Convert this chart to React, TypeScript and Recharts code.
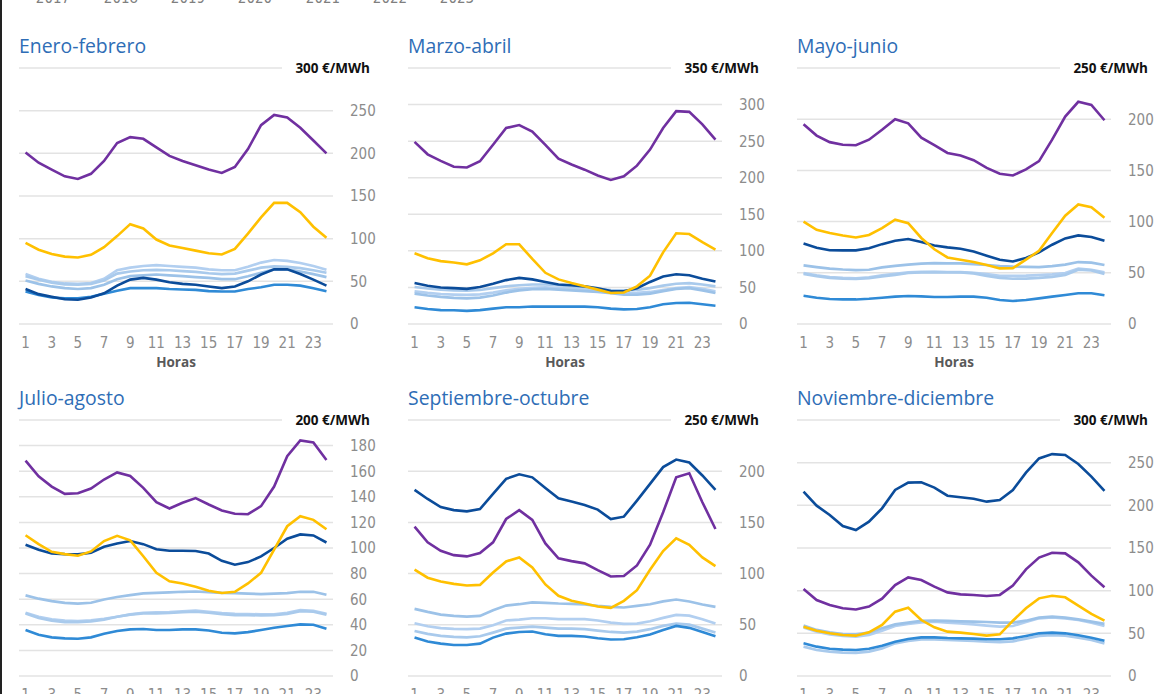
import React from 'react';
import { LineChart, Line, XAxis, YAxis, CartesianGrid } from 'recharts';

// ---------- data ----------
const hours = [1, 2, 3, 4, 5, 6, 7, 8, 9, 10, 11, 12, 13, 14, 15, 16, 17, 18, 19, 20, 21, 22, 23, 24];
const hourTicks = [1, 3, 5, 7, 9, 11, 13, 15, 17, 19, 21, 23];
const years = ['2017', '2018', '2019', '2020', '2021', '2022', '2023'];
const yearColors = ['#b2cff0', '#9cc2e8', '#a9caec', '#2f8ad6', '#0b4c9a', '#7030a0', '#ffc000'];

const periodTitles = ['Enero-febrero', 'Marzo-abril', 'Mayo-junio', 'Julio-agosto', 'Septiembre-octubre', 'Noviembre-diciembre'];
const periodMax = [300, 350, 250, 200, 250, 300];
const ticksEneFeb = [0, 50, 100, 150, 200, 250, 300];
const ticksMarAbr = [0, 50, 100, 150, 200, 250, 300, 350];
const ticksMayJun = [0, 50, 100, 150, 200, 250];
const ticksJulAgo = [0, 20, 40, 60, 80, 100, 120, 140, 160, 180, 200];
const ticksSepOct = [0, 50, 100, 150, 200, 250];
const ticksNovDic = [0, 50, 100, 150, 200, 250, 300];

// Enero-febrero
const eneFeb2017 = [58.5, 53, 49.5, 47.5, 47, 48, 53, 63, 66, 68, 69, 68, 67, 66, 64, 63, 63, 67, 72, 75, 74, 71.5, 68, 63.5];
const eneFeb2018 = [51, 47, 44, 42, 41, 42, 46, 52.5, 56, 57, 58, 57, 56, 55, 54, 52.5, 52.5, 56, 60, 64, 64, 61.5, 58.5, 55];
const eneFeb2019 = [56, 52, 48.5, 46.5, 46, 47, 51, 59, 61.5, 63, 63.5, 63, 62, 61, 59.5, 58.5, 59, 62.5, 66, 67.5, 67, 65.5, 63, 60];
const eneFeb2020 = [38, 34, 31, 30, 30, 32, 35.5, 39, 42, 42, 42, 41, 40.5, 40, 38.5, 38, 38, 41, 43, 46, 46, 45, 42, 38.5];
const eneFeb2021 = [41, 35, 32, 29, 28.5, 31, 36, 45, 52, 54, 52, 49, 47, 46, 44, 42, 44, 50, 58, 64, 64, 58.5, 52, 45];
const eneFeb2022 = [201, 189, 181, 173, 170, 176, 191, 212, 219, 217, 207, 197, 191, 186, 181, 177, 184, 205, 233, 245, 242, 230, 215, 200];
const eneFeb2023 = [95, 87, 82, 79, 78, 81, 90, 103, 117, 112, 99, 92, 89, 86, 83, 81.5, 88, 106, 125, 142, 142, 131, 114, 101];

// Marzo-abril
const marAbr2017 = [44.7, 42.5, 41, 40.2, 39.7, 40.5, 43, 46, 48, 49.5, 50, 49, 48, 46.5, 45.6, 44, 42.4, 42.5, 43.8, 46.5, 49, 50.6, 48, 44.7];
const marAbr2018 = [41.5, 39, 37, 35.8, 35, 36, 39, 43, 46, 47.5, 48, 47, 46, 45, 44, 42, 40, 40, 41.5, 45, 48, 49, 46, 42.4];
const marAbr2019 = [50.6, 48.5, 47, 46, 45.6, 46.5, 49, 51.5, 53, 54, 54, 53, 51.5, 50, 48, 46.5, 46, 46.5, 49, 52.5, 55, 56, 54, 51.5];
const marAbr2020 = [23, 20.5, 19, 18.7, 18, 19, 21, 23, 23, 24, 23.7, 23.7, 23.7, 23.7, 23, 21, 20, 20.5, 23, 27, 28.7, 29, 27, 25];
const marAbr2021 = [56, 52.4, 50, 49, 48, 50.6, 55, 60, 63, 61, 57.5, 54, 53, 51.5, 49, 45, 44.7, 49, 57.5, 65, 68, 66.6, 62, 58];
const marAbr2022 = [249, 232, 223, 215, 214, 222.5, 245, 268, 272, 263, 245, 226, 218, 211, 203, 197, 202, 216.5, 238.5, 268, 291, 290, 273, 252];
const marAbr2023 = [96.7, 90, 86, 84, 81.6, 87, 96.7, 109, 109, 89, 70, 61, 56, 51.5, 47, 42.4, 43, 51.5, 66, 98, 124, 123, 112, 101.7];

// Mayo-junio
const mayJun2017 = [49.8, 47.5, 45.9, 45, 44.6, 45.5, 47.5, 49, 50.4, 51, 51, 50.8, 50.7, 50, 48.8, 47, 47, 47.2, 47.8, 48.5, 49.8, 54, 53, 50.4];
const mayJun2018 = [57.2, 55.5, 54, 53.2, 52.7, 53, 55.3, 56.8, 58, 59, 59.5, 59.3, 59.2, 58.5, 57.6, 56.6, 56, 55.7, 55.6, 56.5, 58, 60.5, 60, 57.6];
const mayJun2019 = [49, 46.8, 45, 44.3, 44, 44.8, 46.5, 48, 49.8, 50.5, 50.7, 50.5, 50.4, 49.5, 47, 45, 44.2, 44.3, 45, 46, 48, 53, 52.4, 49];
const mayJun2020 = [27.6, 25.7, 24.4, 24, 24, 24.7, 25.7, 26.7, 27.3, 27, 26.3, 26.3, 26.7, 26.7, 25.7, 23.4, 22.4, 23.4, 25, 26.7, 28.3, 30, 30, 28];
const mayJun2021 = [78.7, 74.5, 72, 71.9, 71.9, 74, 78, 81.3, 83, 80, 76.7, 74.8, 73.5, 70.9, 66.7, 62.8, 61, 64.4, 70, 77.4, 83.6, 86.5, 85, 81.3];
const mayJun2022 = [195, 184, 177.6, 175, 174.6, 180, 189.6, 200, 196, 182, 174.6, 167, 164.6, 160, 152.5, 146.7, 145, 151, 159, 180, 202.6, 217, 214, 199];
const mayJun2023 = [100, 92, 88.8, 86.5, 84.5, 87, 93.7, 101.8, 98.5, 84, 73, 65, 62.8, 60.5, 57.6, 54.3, 54.6, 62.8, 71.5, 88.8, 105.7, 116.7, 114, 103.7];

// Julio-agosto
const julAgo2017 = [49.4, 46.3, 44.2, 43.2, 42.9, 43.4, 44.7, 46.3, 48.1, 49.4, 49.7, 49.9, 50.5, 51, 50.2, 49.2, 48.6, 48.4, 48.1, 48.1, 49.4, 51.5, 51, 48.6];
const julAgo2018 = [63, 60.4, 58.5, 57.2, 56.5, 57.2, 59.8, 61.7, 63.2, 64.5, 65, 65.3, 65.8, 66, 65.5, 65, 64.8, 64.3, 64, 64.3, 64.8, 65.8, 65.8, 63.5];
const julAgo2019 = [48.9, 45.3, 43.2, 42.1, 42.1, 42.7, 44, 46.3, 47.9, 48.9, 48.9, 49.2, 49.9, 50.2, 49.4, 48.4, 47.6, 47.6, 47.3, 47.6, 48.6, 50.7, 50.2, 47.9];
const julAgo2020 = [35.9, 32.3, 30.2, 29.4, 29.1, 30.2, 33, 35.1, 36.4, 36.7, 35.9, 35.9, 36.4, 36.4, 35.6, 33.8, 33.3, 34.3, 35.9, 37.7, 39, 40.3, 40, 36.9];
const julAgo2021 = [102.5, 98.6, 95.7, 95.2, 95, 96.3, 101, 103.5, 105.4, 103, 99, 97.8, 97.8, 97.6, 95.7, 90, 86.9, 89, 93.4, 100, 107.2, 110.6, 109.8, 104.3];
const julAgo2022 = [168.3, 156, 148, 142.3, 142.8, 146.5, 153.5, 159, 156.3, 147, 135.8, 130.9, 135.3, 139, 134, 129.3, 126.7, 126.4, 132.7, 148, 171.7, 184, 182.4, 168.8];
const julAgo2023 = [110, 103, 97, 95.2, 94, 97.3, 105.4, 109.5, 106, 93.6, 80.6, 74, 72.3, 69.7, 66.6, 64.8, 65.8, 72.3, 80.6, 98.8, 117, 124.9, 122, 114.7];

// Septiembre-octubre
const sepOct2017 = [51.5, 48.6, 46.7, 46, 45.7, 46.3, 49.6, 54.2, 55.1, 56.4, 56.4, 55.5, 55.5, 55.5, 54.2, 52.2, 50.9, 51.2, 53.5, 56.8, 59.7, 59, 55.5, 51.2];
const sepOct2018 = [65.6, 62.6, 60, 58.7, 58, 58.7, 64.3, 68.8, 70.1, 71.8, 71.5, 70.8, 70.5, 69.8, 68.5, 67.5, 66.9, 68.5, 70.1, 72.8, 74.7, 72.8, 69.8, 67.5];
const sepOct2019 = [44, 41.1, 39.2, 38.2, 37.8, 38.8, 42.4, 46.3, 47.3, 48.3, 47.3, 46.3, 46.3, 45.7, 44.4, 43, 42.4, 43.4, 45.7, 48.9, 51.2, 50.2, 46.3, 42.4];
const sepOct2020 = [37.5, 33.6, 31.6, 30.3, 30.3, 31.6, 37.5, 41.4, 43, 43.4, 40.8, 39.2, 39.2, 38.5, 36.9, 35.6, 35.9, 37.8, 40.5, 45, 48.9, 47, 43, 38.8];
const sepOct2021 = [181.7, 172.9, 165, 162, 160.8, 163, 177.8, 192.5, 197, 194, 183.7, 173.6, 170.3, 167, 162.5, 153.3, 155.6, 171.3, 187.6, 204, 211.4, 208.5, 195.8, 181.7];
const sepOct2022 = [145.8, 130.5, 122.3, 118, 116.8, 120, 130.5, 153.3, 162, 152.4, 129.5, 115, 112.2, 110, 103.4, 97.2, 97.6, 108, 128.2, 159.9, 194, 198, 169.7, 143.6];
const sepOct2023 = [103.8, 96, 92.3, 90, 88.4, 89, 101, 111.9, 115.8, 106, 89.4, 78.3, 73.4, 70.8, 67.9, 66.6, 73.4, 83.8, 103.8, 122, 134.4, 128.2, 115.8, 107.3];

// Noviembre-diciembre
const novDic2017 = [57, 52, 48.8, 46.9, 46, 48, 53, 58.6, 61, 62.9, 63.7, 62.5, 61.7, 60.5, 59, 57.8, 58.6, 63.3, 67.6, 68.75, 67.6, 65.6, 62.5, 58.6];
const novDic2018 = [59, 54, 51.2, 49.2, 48.8, 50.8, 55.9, 60.5, 62.5, 64.5, 64.8, 64.5, 64, 63.7, 63.3, 62.5, 62.5, 64.8, 68.4, 69.5, 68.4, 66.4, 63.7, 61];
const novDic2019 = [34.4, 30.5, 28.5, 27.3, 27, 28.5, 32.4, 38.3, 41, 43, 43, 42.2, 41.8, 41, 40.2, 39.8, 40.6, 43.75, 46.9, 48, 47.3, 44.9, 42.2, 38.3];
const novDic2020 = [38.3, 34.4, 32, 30.9, 30.5, 32, 35.5, 40.2, 43.4, 45.3, 45.3, 44.5, 44.1, 43.75, 43, 43, 44.1, 46.9, 50, 50.8, 50, 47.7, 44.9, 41.4];
const novDic2021 = [216, 199.6, 188.7, 175.8, 171, 180.9, 196.5, 218, 226.6, 227, 220.7, 211.3, 209.4, 207.8, 204.3, 206.3, 218, 238.3, 255, 260, 259, 248.4, 233.6, 216.8];
const novDic2022 = [102, 89, 83.2, 79.3, 78, 81.3, 90.6, 106.6, 115.6, 112.5, 104.7, 98, 95.7, 95, 93.75, 95, 105.9, 125, 138.7, 144.5, 143.75, 133.2, 117.6, 104];
const novDic2023 = [57.8, 53, 50, 48, 47.3, 51.2, 59.8, 75.4, 80, 65.6, 57, 52, 50.8, 49.2, 47.3, 48.8, 64.8, 79.3, 91, 94, 92.2, 82.4, 72.7, 64.8];

const periodSeries = [
  [eneFeb2017, eneFeb2018, eneFeb2019, eneFeb2020, eneFeb2021, eneFeb2022, eneFeb2023],
  [marAbr2017, marAbr2018, marAbr2019, marAbr2020, marAbr2021, marAbr2022, marAbr2023],
  [mayJun2017, mayJun2018, mayJun2019, mayJun2020, mayJun2021, mayJun2022, mayJun2023],
  [julAgo2017, julAgo2018, julAgo2019, julAgo2020, julAgo2021, julAgo2022, julAgo2023],
  [sepOct2017, sepOct2018, sepOct2019, sepOct2020, sepOct2021, sepOct2022, sepOct2023],
  [novDic2017, novDic2018, novDic2019, novDic2020, novDic2021, novDic2022, novDic2023],
];
const periodTicks = [ticksEneFeb, ticksMarAbr, ticksMayJun, ticksJulAgo, ticksSepOct, ticksNovDic];

// ---------- layout ----------
const TICK_FONT = "'Liberation Sans Narrow', 'DejaVu Sans Condensed', Roboto, sans-serif";
const TEXT_FONT = "'Open Sans', 'Noto Sans', sans-serif";
const PANEL_W = 389;
const CHART_H = 316;
const M_TOP = 10;
const GRID_LEFT = 19;
const PLOT_TOPS = [68, 420.4];

function buildRows(series: number[][]) {
  return hours.map((h, i) => {
    const row: Record<string, number> = { h };
    years.forEach((y, k) => {
      row[y] = series[k][i];
    });
    return row;
  });
}

function makeYTick(max: number) {
  return (props: any) => {
    const { x, y, payload } = props;
    if (payload.value === max) {
      return (
        <g>
          <rect x={x - 68} y={y - 5} width={96} height={10} fill="#ffffff" />
          <text x={x + 20} y={y} dy="0.36em" textAnchor="end" fontFamily={TEXT_FONT} fontWeight={700} fontSize={13.5} fill="#111111">
            {`${max} €/MWh`}
          </text>
        </g>
      );
    }
    return (
      <text x={x} y={y} dy="0.36em" textAnchor="start" fontFamily={TICK_FONT} fontSize={15} fill="#8c8c8c">
        {payload.value}
      </text>
    );
  };
}

function Panel({ index }: { index: number }) {
  const col = index % 3;
  const row = Math.floor(index / 3);
  const left = GRID_LEFT + PANEL_W * col;
  const plotTop = PLOT_TOPS[row];
  const max = periodMax[index];
  const data = buildRows(periodSeries[index]);
  return (
    <>
      <div
        style={{
          position: 'absolute',
          left,
          top: plotTop - 34,
          fontFamily: TEXT_FONT,
          fontSize: 19.4,
          lineHeight: '24px',
          color: '#2e6db6',
          whiteSpace: 'nowrap',
        }}
      >
        {periodTitles[index]}
      </div>
      <div style={{ position: 'absolute', left, top: plotTop - M_TOP }}>
        <LineChart width={PANEL_W} height={CHART_H} data={data} margin={{ top: M_TOP, right: 15, left: 0, bottom: 20 }}>
          <CartesianGrid vertical={false} stroke="#e3e3e3" strokeWidth={1.5} />
          <XAxis
            dataKey="h"
            type="number"
            domain={[0.5, 24.5]}
            ticks={hourTicks}
            interval={0}
            axisLine={false}
            tickLine={false}
            tickSize={0}
            tickMargin={13}
            height={30}
            tick={{ fontFamily: TICK_FONT, fontSize: 15, fill: '#8c8c8c' }}
          />
          <YAxis
            orientation="right"
            domain={[0, max]}
            ticks={periodTicks[index]}
            interval={0}
            axisLine={false}
            tickLine={false}
            tickSize={0}
            tickMargin={17}
            width={60}
            tick={makeYTick(max)}
          />
          {years.map((y, k) => (
            <Line
              key={y}
              dataKey={y}
              type="linear"
              stroke={yearColors[k]}
              strokeWidth={k < 3 ? 2.7 : 2.6}
              dot={false}
              activeDot={false}
              isAnimationActive={false}
            />
          ))}
        </LineChart>
      </div>
      <div
        style={{
          position: 'absolute',
          left,
          width: 314,
          top: plotTop + 256.3 + 30,
          textAlign: 'center',
          fontFamily: TEXT_FONT,
          fontWeight: 700,
          fontSize: 13.5,
          lineHeight: '16px',
          color: '#595959',
        }}
      >
        Horas
      </div>
    </>
  );
}

const legendX = [53, 121, 188, 255, 323, 390, 457];

export default function App() {
  return (
    <div
      style={{
        position: 'absolute',
        left: 0,
        top: 0,
        width: 1170,
        height: 694,
        overflow: 'hidden',
        background: '#ffffff',
      }}
    >
      <div style={{ position: 'absolute', left: 0, top: 0, width: 2, height: 694, background: '#222222' }} />
      <svg style={{ position: 'absolute', left: 0, top: 0 }} width={600} height={10}>
        {years.map((y, k) => (
          <text key={y} x={legendX[k]} y={3} textAnchor="middle" fontFamily={TICK_FONT} fontSize={15} fill="#7f7f7f">
            {y}
          </text>
        ))}
      </svg>
      {periodTitles.map((_, i) => (
        <Panel key={i} index={i} />
      ))}
    </div>
  );
}
